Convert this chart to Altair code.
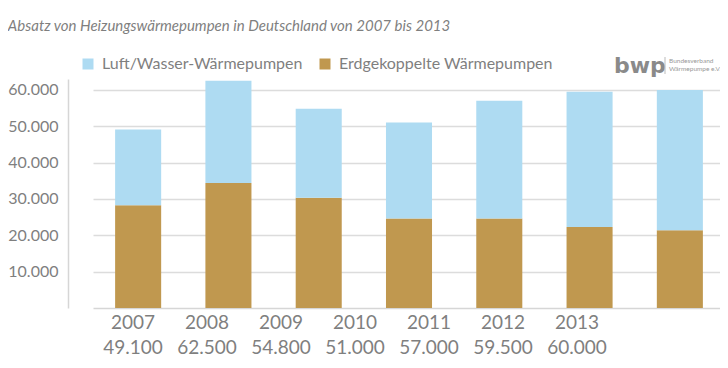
import altair as alt
import pandas as pd

years = ["2007", "2008", "2009", "2010", "2011", "2012", "2013"]
totals = [49100, 62500, 54800, 51000, 57000, 59500, 60000]
erdgekoppelt = [28300, 34400, 30300, 24600, 24600, 22300, 21400]
luft_wasser = [20800, 28100, 24500, 26400, 32400, 37200, 38600]
series_names = ["Luft/Wasser-Wärmepumpen", "Erdgekoppelte Wärmepumpen"]
series_colors = ["#aedbf2", "#c0984f"]
y_ticks = [10000, 20000, 30000, 40000, 50000, 60000]

rows = []
for y, e, l in zip(years, erdgekoppelt, luft_wasser):
    rows.append({"year": y, "series": series_names[1], "value": e, "ord": 0})
    rows.append({"year": y, "series": series_names[0], "value": l, "ord": 1})
df = pd.DataFrame(rows)


def de_fmt(v):
    return f"{v:,}".replace(",", ".")


labels = pd.DataFrame({
    "year": years,
    "label": [f"{y}\n{de_fmt(t)}" for y, t in zip(years, totals)],
})

FONT = "Lato"
GREY = "#7f7f7f"

bars = alt.Chart(df).mark_bar().encode(
    x=alt.X(
        "year:N",
        scale=alt.Scale(range=[25, 657], paddingInner=0.49, paddingOuter=0.245),
        axis=alt.Axis(labels=False, ticks=False, title=None, grid=False,
                      domainColor="#d6d6d6", domainWidth=1.5),
    ),
    y=alt.Y(
        "value:Q",
        stack="zero",
        scale=alt.Scale(domain=[0, 63000], nice=False),
        axis=alt.Axis(
            values=y_ticks, title=None, ticks=False, grid=True,
            gridColor="#dcdcdc", gridWidth=1.5,
            domainColor="#d6d6d6", domainWidth=1.5,
            labelFont=FONT, labelFontSize=16, labelColor=GREY, labelPadding=10,
            labelExpr="replace(format(datum.value, ','), ',', '.')",
        ),
    ),
    color=alt.Color(
        "series:N",
        scale=alt.Scale(domain=series_names, range=series_colors),
        legend=alt.Legend(
            title=None, orient="none", direction="horizontal",
            legendX=12, legendY=-23,
            symbolType="square", symbolSize=121, symbolStrokeWidth=0,
            symbolOpacity=1,
            labelFont=FONT, labelFontSize=16, labelColor=GREY,
            labelOffset=6, columnPadding=14, labelLimit=400,
        ),
    ),
    order=alt.Order("ord:Q"),
)

xlabels = alt.Chart(labels).mark_text(
    lineBreak="\n", font=FONT, fontSize=19, color=GREY,
    baseline="top", lineHeight=25, align="center",
).encode(
    x=alt.X("year:N", scale=alt.Scale(range=[28, 546]), axis=None),
    y=alt.value(235),
    text="label:N",
)

one = pd.DataFrame({"a": [0]})
logo_bwp = alt.Chart(one).mark_text(
    text="bwp", font="DejaVu Sans", fontWeight="bold", fontSize=22,
    color="#8a8a8a", align="left", baseline="alphabetic",
).encode(x=alt.value(546), y=alt.value(-6))
logo_rule = alt.Chart(one).mark_rule(color="#bbbbbb", strokeWidth=1).encode(
    x=alt.value(597), y=alt.value(-22), y2=alt.value(-5))
logo_txt = alt.Chart(one).mark_text(
    text="Bundesverband\nWärmepumpe e.V.", lineBreak="\n", font=FONT,
    fontSize=6.5, color="#999999", align="left", baseline="top", lineHeight=8,
).encode(x=alt.value(601), y=alt.value(-21))

chart = alt.layer(bars, xlabels, logo_bwp, logo_rule, logo_txt).resolve_scale(
    x="independent"
).properties(
    width=650,
    height=229,
    padding={"left": 60, "top": 71, "right": 2, "bottom": 55},
    autosize="none",
    title=alt.TitleParams(
        "Absatz von Heizungswärmepumpen in Deutschland von 2007 bis 2013",
        anchor="start", font=FONT, fontSize=15,
        fontStyle="italic", fontWeight="normal", color=GREY, dx=0, offset=21,
    ),
).configure_view(stroke=None)

chart.save("out.html", embed_options={"renderer": "svg", "actions": False})
